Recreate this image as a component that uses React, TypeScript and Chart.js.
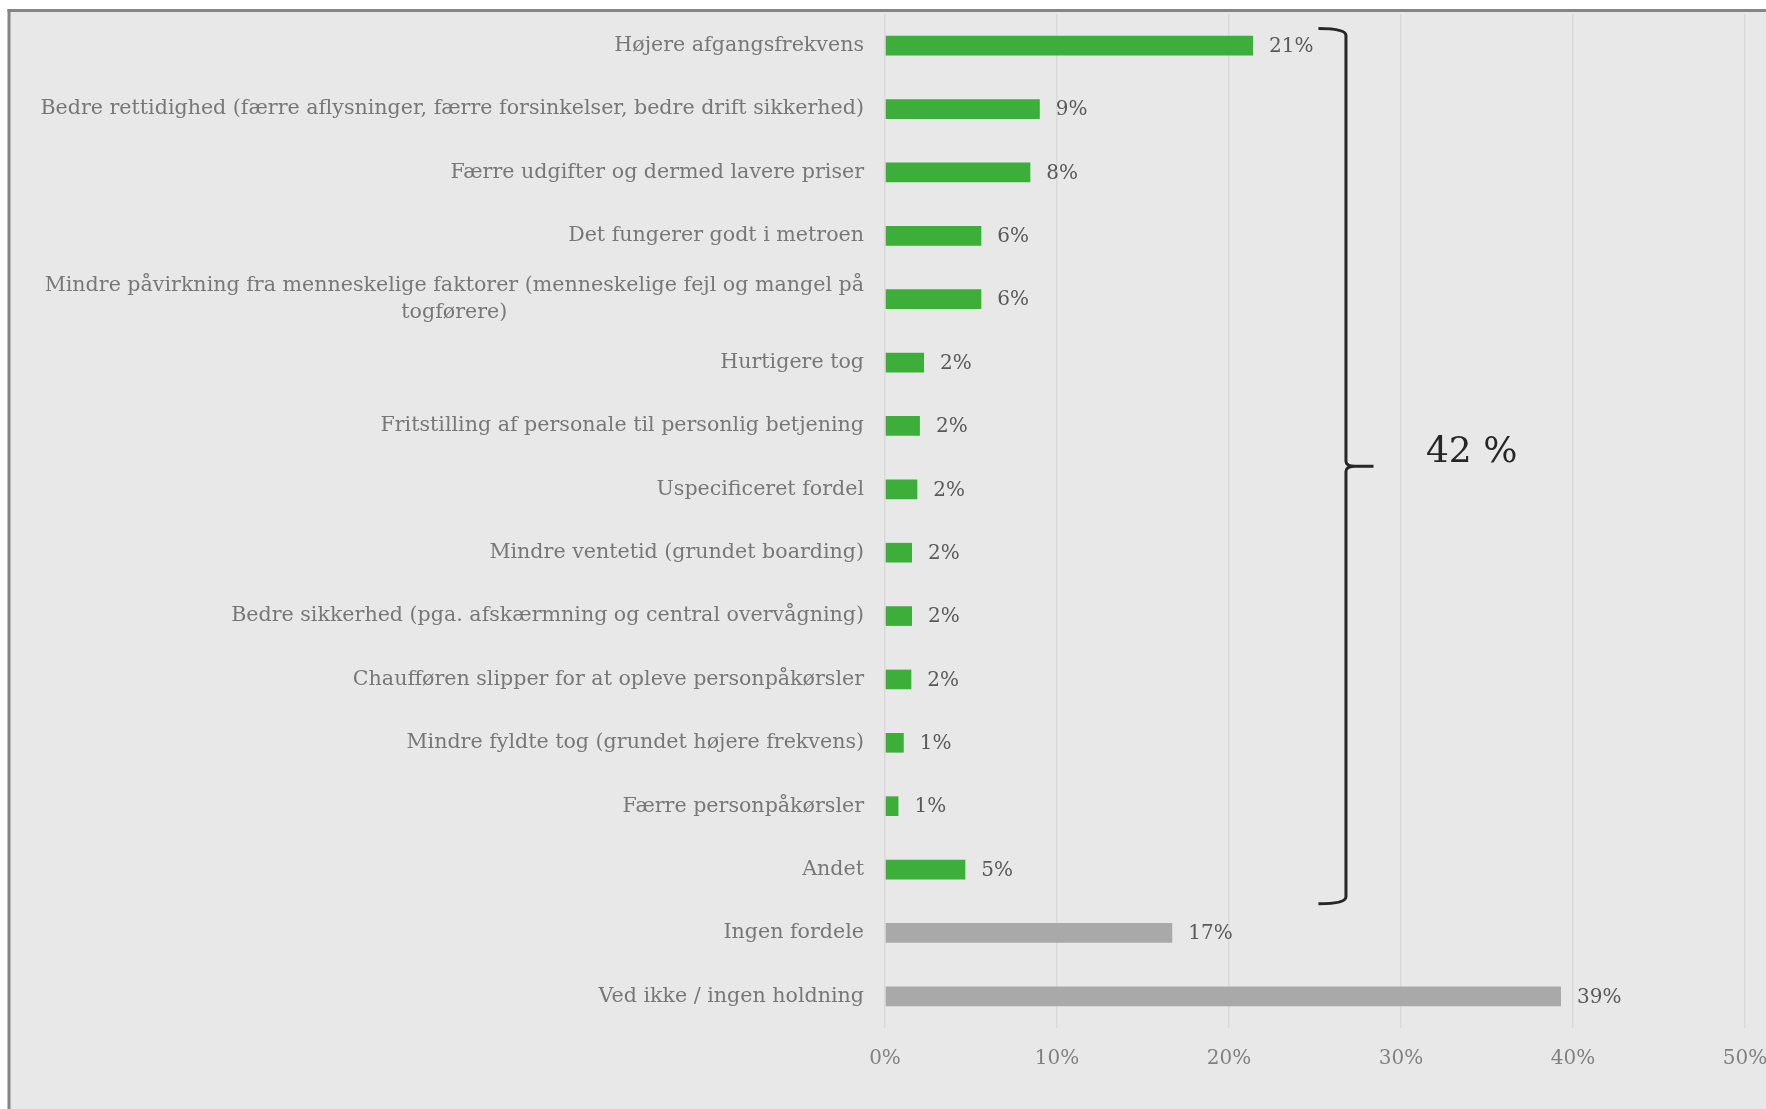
import React, { useEffect, useRef } from "react";
import { Chart, registerables } from "chart.js";

Chart.register(...registerables);

const categories: (string | string[])[] = [
  "Højere afgangsfrekvens",
  "Bedre rettidighed (færre aflysninger, færre forsinkelser, bedre drift sikkerhed)",
  "Færre udgifter og dermed lavere priser",
  "Det fungerer godt i metroen",
  ["Mindre påvirkning fra menneskelige faktorer (menneskelige fejl og mangel på", "togførere)"],
  "Hurtigere tog",
  "Fritstilling af personale til personlig betjening",
  "Uspecificeret fordel",
  "Mindre ventetid (grundet boarding)",
  "Bedre sikkerhed (pga. afskærmning og central overvågning)",
  "Chaufføren slipper for at opleve personpåkørsler",
  "Mindre fyldte tog (grundet højere frekvens)",
  "Færre personpåkørsler",
  "Andet",
  "Ingen fordele",
  "Ved ikke / ingen holdning",
];

const values = [21.4, 9.0, 8.45, 5.6, 5.6, 2.27, 2.03, 1.88, 1.57, 1.57, 1.53, 1.09, 0.78, 4.67, 16.7, 39.3];

const groups = [
  "fordel", "fordel", "fordel", "fordel", "fordel", "fordel", "fordel",
  "fordel", "fordel", "fordel", "fordel", "fordel", "fordel", "fordel",
  "ingen", "ingen",
];

const xTickValues = [0, 10, 20, 30, 40, 50];
const bracketLabel = "42 %";

const GREEN = "#3dae39";
const GREY = "#a9a9a9";
const FONT = "'DejaVu Serif', 'Liberation Serif', serif";

export default function App() {
  const ref = useRef<HTMLCanvasElement | null>(null);

  useEffect(() => {
    if (!ref.current) return;

    const bgPlugin = {
      id: "bg",
      beforeDraw(chart: any) {
        const ctx = chart.ctx;
        ctx.save();
        ctx.fillStyle = "#ffffff";
        ctx.fillRect(0, 0, chart.width, chart.height);
        ctx.fillStyle = "#e8e8e8";
        ctx.fillRect(9, 10, chart.width, chart.height);
        ctx.fillStyle = "#858585";
        ctx.fillRect(7.5, 9, chart.width, 3);
        ctx.fillRect(7.5, 9, 3, chart.height);
        ctx.restore();
      },
    };

    const labelPlugin = {
      id: "labels",
      afterDraw(chart: any) {
        const ctx = chart.ctx;
        const ys = chart.scales.y;
        const xs = chart.scales.x;
        const area = chart.chartArea;
        ctx.save();
        // category labels
        ctx.font = `20.6px ${FONT}`;
        ctx.fillStyle = "#777777";
        ctx.textBaseline = "middle";
        const right = area.left - 21;
        const lineH = 27;
        categories.forEach((c, i) => {
          const lines = Array.isArray(c) ? c : [c];
          const y0 = ys.getPixelForValue(i);
          const maxW = Math.max(...lines.map((l) => ctx.measureText(l).width));
          const cx = right - maxW / 2;
          ctx.textAlign = "center";
          lines.forEach((l, k) => {
            const y = y0 + (k - (lines.length - 1) / 2) * lineH;
            ctx.fillText(l, cx, y);
          });
        });
        // data labels
        ctx.font = `20px ${FONT}`;
        ctx.fillStyle = "#595959";
        ctx.textAlign = "left";
        const meta = chart.getDatasetMeta(0);
        meta.data.forEach((bar: any, i: number) => {
          ctx.fillText(Math.round(values[i]) + "%", bar.x + 16, bar.y + 1);
        });
        // bracket
        const idx = groups.map((g, i) => (g === "fordel" ? i : -1)).filter((i) => i >= 0);
        const first = idx[0];
        const last = idx[idx.length - 1];
        const rowH = ys.getPixelForValue(1) - ys.getPixelForValue(0);
        const top = ys.getPixelForValue(first) - 0.27 * rowH;
        const bottom = ys.getPixelForValue(last) + 0.54 * rowH;
        const mid = (top + bottom) / 2;
        const xV = xs.getPixelForValue(26.8);
        const xHook = xs.getPixelForValue(25.2);
        const xTip = xs.getPixelForValue(28.4);
        const r = 7;
        ctx.strokeStyle = "#262626";
        ctx.lineWidth = 3;
        ctx.lineCap = "butt";
        ctx.beginPath();
        ctx.moveTo(xHook, top);
        ctx.quadraticCurveTo(xV, top, xV, top + r);
        ctx.lineTo(xV, mid - 5);
        ctx.quadraticCurveTo(xV, mid, xV + 9, mid);
        ctx.lineTo(xTip, mid);
        ctx.moveTo(xV + 9, mid);
        ctx.quadraticCurveTo(xV, mid, xV, mid + 5);
        ctx.lineTo(xV, bottom - r);
        ctx.quadraticCurveTo(xV, bottom, xHook, bottom);
        ctx.stroke();
        ctx.font = `36px ${FONT}`;
        ctx.fillStyle = "#262626";
        ctx.textBaseline = "alphabetic";
        ctx.textAlign = "left";
        ctx.fillText(bracketLabel, xs.getPixelForValue(31.45), mid - 4);
        ctx.restore();
      },
    };

    const chart = new Chart(ref.current, {
      type: "bar",
      data: {
        labels: categories as any,
        datasets: [
          {
            data: values,
            backgroundColor: groups.map((g) => (g === "fordel" ? GREEN : GREY)),
            borderWidth: 0,
            barPercentage: 0.31,
            categoryPercentage: 1,
          },
        ],
      },
      options: {
        indexAxis: "y",
        animation: false,
        responsive: true,
        maintainAspectRatio: false,
        layout: { padding: { left: 0, top: 14, right: 55, bottom: 0 } },
        plugins: {
          legend: { display: false },
          tooltip: { enabled: false },
        },
        scales: {
          y: {
            type: "category",
            ticks: { display: false },
            grid: { display: false },
            border: { display: false },
            afterFit: (s: any) => {
              s.width = 885;
            },
          },
          x: {
            type: "linear",
            position: "bottom",
            min: 0,
            max: 50,
            afterBuildTicks: (s: any) => {
              s.ticks = xTickValues.map((v) => ({ value: v }));
            },
            ticks: {
              callback: (v: any) => v + "%",
              font: { family: FONT, size: 20 },
              color: "#808080",
              padding: 19,
            },
            grid: { color: "#d9d9d9", lineWidth: 1.5, drawTicks: false },
            border: { display: false },
            afterFit: (s: any) => {
              s.height = 81;
            },
          },
        },
      },
      plugins: [bgPlugin, labelPlugin],
    });
    return () => chart.destroy();
  }, []);

  return (
    <div
      style={{
        position: "fixed",
        left: 0,
        top: 0,
        width: 1766,
        height: 1109,
        overflow: "hidden",
        background: "#fff",
      }}
    >
      <div style={{ position: "relative", width: 1800, height: 1109 }}>
        <canvas ref={ref} />
      </div>
    </div>
  );
}
